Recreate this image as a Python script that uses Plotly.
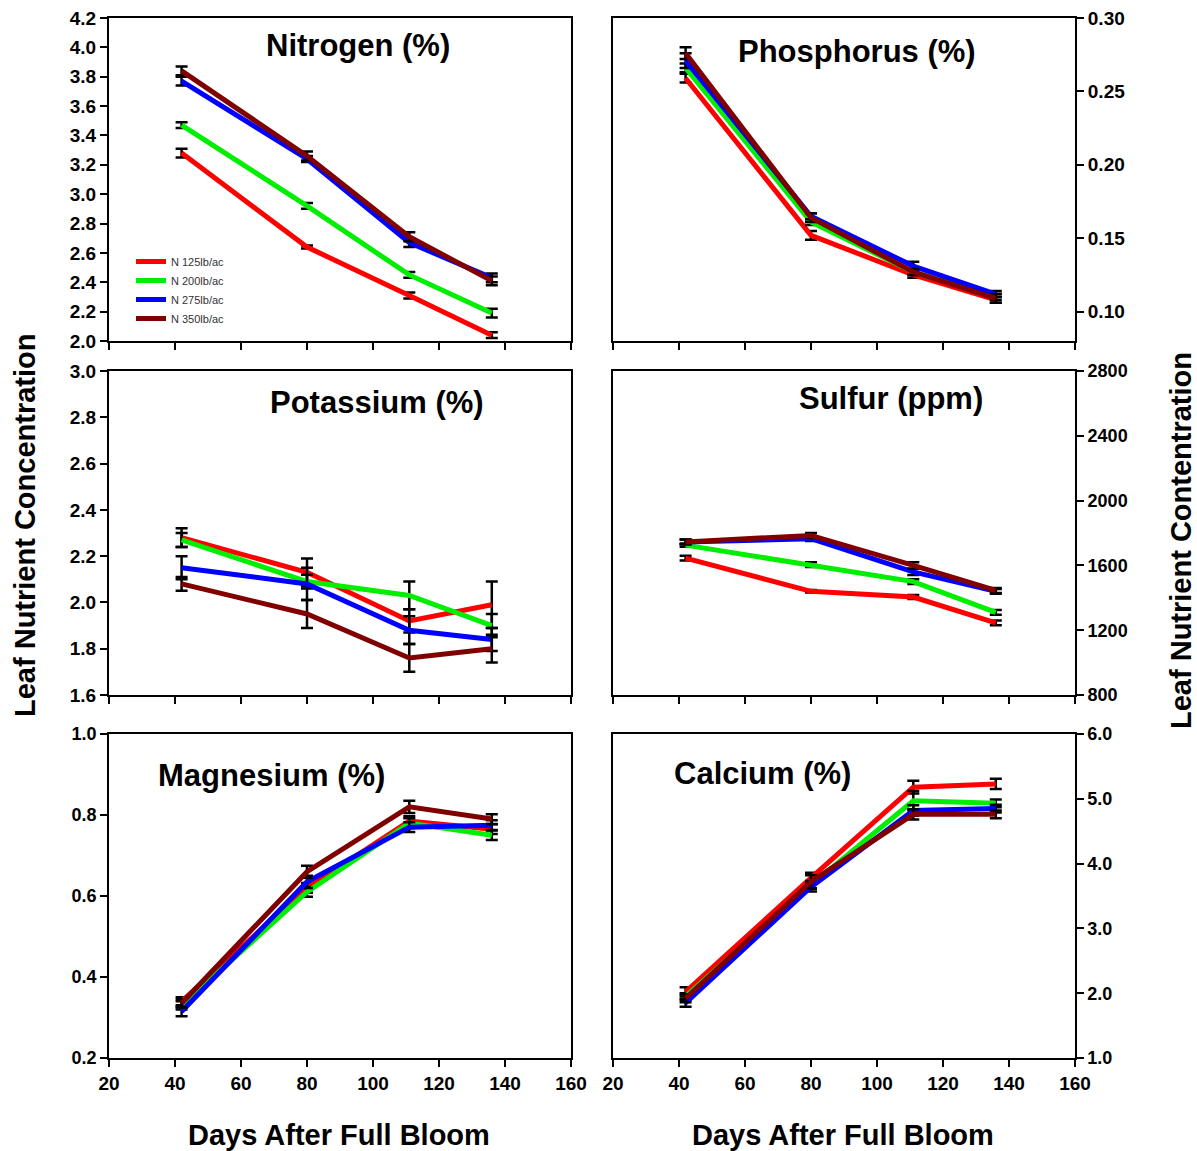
import plotly.graph_objects as go

# ---------------- data ----------------
days = [42, 80, 111, 136]
treatments = ["N 125lb/ac", "N 200lb/ac", "N 275lb/ac", "N 350lb/ac"]
colors = ["#FF0000", "#00EE00", "#0000FF", "#800000"]

nitrogen_mean = [[3.28, 2.64, 2.31, 2.04],
                 [3.47, 2.92, 2.45, 2.19],
                 [3.77, 3.24, 2.67, 2.43],
                 [3.84, 3.26, 2.71, 2.41]]
nitrogen_err = [[0.03, 0.01, 0.02, 0.02],
                [0.02, 0.02, 0.02, 0.03],
                [0.03, 0.02, 0.03, 0.03],
                [0.03, 0.03, 0.03, 0.03]]

phosphorus_mean = [[0.259, 0.152, 0.125, 0.108],
                   [0.266, 0.161, 0.127, 0.110],
                   [0.271, 0.165, 0.131, 0.112],
                   [0.276, 0.164, 0.127, 0.109]]
phosphorus_err = [[0.003, 0.003, 0.002, 0.002],
                  [0.003, 0.002, 0.002, 0.002],
                  [0.005, 0.002, 0.003, 0.002],
                  [0.004, 0.003, 0.002, 0.003]]

potassium_mean = [[2.28, 2.13, 1.92, 1.99],
                  [2.27, 2.09, 2.03, 1.90],
                  [2.15, 2.08, 1.88, 1.84],
                  [2.08, 1.95, 1.76, 1.80]]
potassium_err = [[0.04, 0.06, 0.05, 0.10],
                 [0.03, 0.03, 0.06, 0.05],
                 [0.05, 0.07, 0.06, 0.05],
                 [0.03, 0.06, 0.06, 0.06]]

sulfur_mean = [[1645, 1440, 1405, 1245],
               [1725, 1605, 1500, 1310],
               [1745, 1765, 1560, 1440],
               [1745, 1785, 1600, 1445]]
sulfur_err = [[15, 8, 12, 15],
              [10, 15, 15, 15],
              [15, 15, 20, 15],
              [15, 15, 20, 15]]

magnesium_mean = [[0.340, 0.620, 0.785, 0.765],
                  [0.330, 0.610, 0.780, 0.750],
                  [0.315, 0.635, 0.770, 0.775],
                  [0.335, 0.660, 0.820, 0.790]]
magnesium_err = [[0.010, 0.012, 0.012, 0.012],
                 [0.010, 0.012, 0.012, 0.012],
                 [0.012, 0.015, 0.012, 0.012],
                 [0.010, 0.015, 0.015, 0.012]]

calcium_mean = [[2.02, 3.78, 5.18, 5.23],
                [1.95, 3.67, 4.97, 4.93],
                [1.85, 3.64, 4.82, 4.85],
                [1.92, 3.72, 4.76, 4.76]]
calcium_err = [[0.07, 0.08, 0.10, 0.08],
               [0.05, 0.06, 0.15, 0.06],
               [0.06, 0.07, 0.08, 0.06],
               [0.06, 0.10, 0.08, 0.06]]

panel_titles = ["Nitrogen (%)", "Phosphorus (%)", "Potassium (%)",
                "Sulfur (ppm)", "Magnesium (%)", "Calcium (%)"]
y_ranges = [[2.0, 4.2], [0.08, 0.30], [1.6, 3.0], [800, 2800], [0.2, 1.0], [1.0, 6.0]]
y_dticks = [0.2, 0.05, 0.2, 400, 0.2, 1.0]
y_formats = [".1f", ".2f", ".1f", "d", ".1f", ".1f"]
x_range = [20, 160]
x_title = "Days After Full Bloom"
left_title = "Leaf Nutrient Concentration"
right_title = "Leaf Nutrient Contentration"

# ---------------- layout geometry ----------------
W, H = 1197, 1151
FONT = "Arial, Liberation Sans, sans-serif"
col_dom = [[109 / W, 571 / W], [613 / W, 1075 / W]]
row_dom = [[1 - 341 / H, 1 - 18 / H], [1 - 695 / H, 1 - 371 / H], [1 - 1058 / H, 1 - 734 / H]]

panels = [(nitrogen_mean, nitrogen_err), (phosphorus_mean, phosphorus_err),
          (potassium_mean, potassium_err), (sulfur_mean, sulfur_err),
          (magnesium_mean, magnesium_err), (calcium_mean, calcium_err)]

fig = go.Figure()
layout = {}
for p, (means, errs) in enumerate(panels):
    row, col = divmod(p, 2)
    k = p + 1
    xa = "x" if k == 1 else f"x{k}"
    ya = "y" if k == 1 else f"y{k}"
    for t in range(4):
        fig.add_trace(go.Scatter(
            x=days, y=means[t], mode="lines", name=treatments[t],
            line=dict(color=colors[t], width=5),
            error_y=dict(type="data", array=errs[t], visible=True,
                         color="black", thickness=2.5, width=6),
            xaxis=xa, yaxis=ya, showlegend=(p == 0), legendrank=t))
    lw = 2 if row < 2 else 1.5
    bottom = row == 2
    layout["xaxis" if k == 1 else f"xaxis{k}"] = dict(
        domain=col_dom[col], anchor=ya, range=x_range, dtick=20, tick0=0,
        automargin=False,
        showline=True, linecolor="black", linewidth=lw, mirror=True,
        ticks="outside", ticklen=7, tickwidth=lw, tickcolor="black",
        showticklabels=bottom, showgrid=False, zeroline=False,
        tickfont=dict(family=FONT, size=19, color="black", weight="bold"))
    layout["yaxis" if k == 1 else f"yaxis{k}"] = dict(
        domain=row_dom[row], anchor=xa, range=y_ranges[p], dtick=y_dticks[p],
        tick0=0, tickformat=y_formats[p], automargin=False,
        side="left" if col == 0 else "right",
        showline=True, linecolor="black", linewidth=lw, mirror=True,
        ticks="outside", ticklen=7, tickwidth=lw, tickcolor="black",
        showgrid=False, zeroline=False,
        tickfont=dict(family=FONT, size=(19 if p < 3 else 18), color="black", weight="bold"))

title_pos = [(358, 45), (857, 52), (377, 402), (891, 398), (271, 775), (762, 773)]
annotations = []
for (px, py), txt in zip(title_pos, panel_titles):
    annotations.append(dict(x=px / W, y=1 - py / H, xref="paper", yref="paper",
                            text=f"<b>{txt}</b>", showarrow=False,
                            xanchor="center", yanchor="middle",
                            font=dict(family=FONT, size=31, color="black")))
for cx in (339, 843):
    annotations.append(dict(x=cx / W, y=1 - 1135 / H, xref="paper", yref="paper",
                            text=f"<b>{x_title}</b>", showarrow=False,
                            xanchor="center", yanchor="middle",
                            font=dict(family=FONT, size=29, color="black")))
annotations.append(dict(x=25 / W, y=1 - 526 / H, xref="paper", yref="paper",
                        text=f"<b>{left_title}</b>", showarrow=False, textangle=-90,
                        xanchor="center", yanchor="middle",
                        font=dict(family=FONT, size=29, color="black")))
annotations.append(dict(x=1181 / W, y=1 - 541 / H, xref="paper", yref="paper",
                        text=f"<b>{right_title}</b>", showarrow=False, textangle=-90,
                        xanchor="center", yanchor="middle",
                        font=dict(family=FONT, size=29, color="black")))

fig.update_layout(
    template="none",
    width=W, height=H, margin=dict(l=0, r=0, t=0, b=0, pad=0),
    paper_bgcolor="white", plot_bgcolor="white",
    annotations=annotations,
    legend=dict(x=131 / W, y=1 - 247 / H, xanchor="left", yanchor="top",
                bgcolor="rgba(0,0,0,0)", borderwidth=0, tracegroupgap=0,
                font=dict(family=FONT, size=11, color="#333333")),
    **layout)

fig.write_html("out.html")
